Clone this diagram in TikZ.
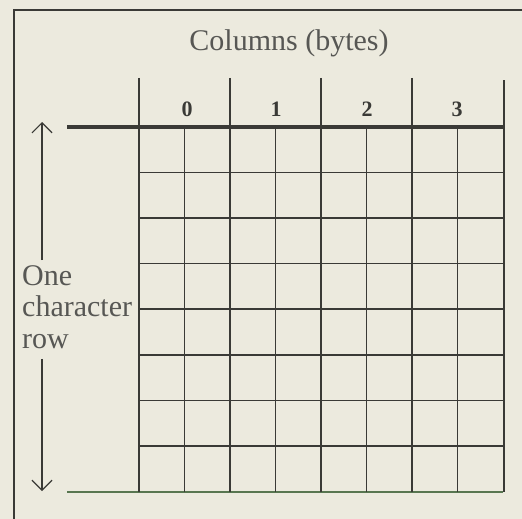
\documentclass[tikz,border=0pt]{standalone}
\usepackage{fontspec}
\setmainfont{Liberation Serif}
\usetikzlibrary{arrows.meta}

\definecolor{paper}{RGB}{236,234,222}
\definecolor{ink}{RGB}{58,58,54}
\definecolor{greenink}{RGB}{88,118,80}

\begin{document}
\begin{tikzpicture}[x=1pt,y=-1pt,
    grid/.style={ink,line width=1.8pt},
    rowarrow/.style={ink,line width=1.2pt,-{Straight Barb[length=10pt,width=20pt,line width=1.2pt]}},
    lbl/.style={font=\fontsize{30}{31.5}\selectfont,text=ink!85,inner sep=0pt},
    byte/.style={font=\fontsize{22}{24}\selectfont\bfseries,text=ink,inner sep=0pt}]
    \fill[paper] (0,0) rectangle (522,519);
    \useasboundingbox (0,0) rectangle (522,519);

    % frame
    \draw[ink,line width=2.6pt] (14,519) -- (14,10) -- (522,10);

    % labels
    \node[lbl] (title) at (289,43) {Columns (bytes)};
    \node[byte] (b0) at (187,109) {0};
    \node[byte] (b1) at (276,109) {1};
    \node[byte] (b2) at (367,109) {2};
    \node[byte] (b3) at (457,109) {3};
    \node[lbl,anchor=west,align=left] (rowlbl) at (22,307) {One\\character\\row};

    % arrow ends
    \coordinate (up) at (42,122);
    \coordinate (down) at (42,491);
    \draw[rowarrow] (rowlbl.north -| up) ++(0,-5) -- (up);
    \draw[rowarrow] (rowlbl.south -| down) ++(0,10) -- (down);

    % rows
    \draw[ink,line width=4pt] (67,127) -- (504,127);
    \draw[grid] (139,172.5) -- (503,172.5);
    \draw[grid] (139,218) -- (503,218);
    \draw[grid] (139,263.5) -- (503,263.5);
    \draw[grid] (139,309) -- (503,309);
    \draw[grid] (139,355) -- (503,355);
    \draw[grid] (139,400.5) -- (503,400.5);
    \draw[grid] (139,446) -- (503,446);
    \draw[greenink,line width=1.6pt] (67,492) -- (503,492);

    % byte boundaries
    \draw[grid] (139,78) -- (139,492);
    \draw[grid] (230,78) -- (230,492);
    \draw[grid] (321,78) -- (321,492);
    \draw[grid] (412,78) -- (412,492);
    \draw[grid] (504,80) -- (504,492);

    % bits
    \draw[grid] (184.5,127) -- (184.5,492);
    \draw[grid] (275.5,127) -- (275.5,492);
    \draw[grid] (366.5,127) -- (366.5,492);
    \draw[grid] (457.5,127) -- (457.5,492);
\end{tikzpicture}
\end{document}
